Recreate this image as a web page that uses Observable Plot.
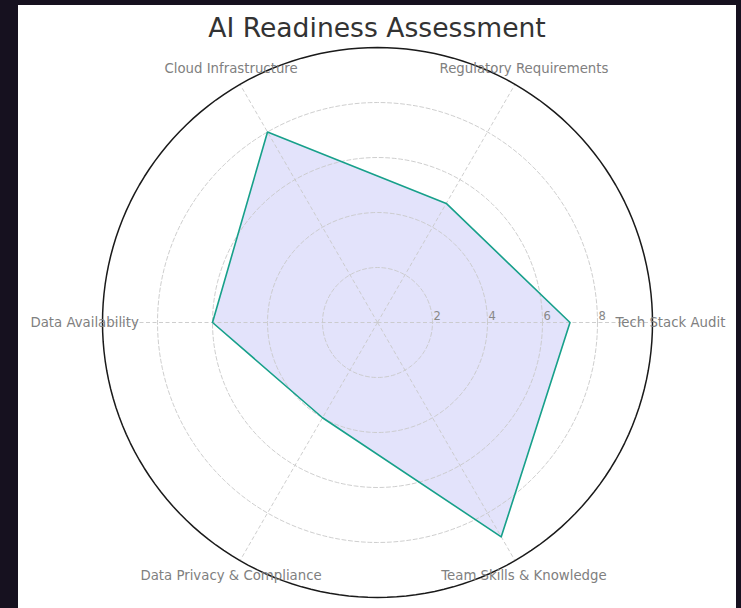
<!DOCTYPE html>
<html>
<head>
<meta charset="utf-8">
<script src="https://cdn.jsdelivr.net/npm/d3@7"></script>
<script src="https://cdn.jsdelivr.net/npm/@observablehq/plot@0.6"></script>
<style>
  html, body { margin: 0; padding: 0; background: #16111f; width: 741px; height: 608px; overflow: hidden; }
  #wrap { position: absolute; left: 18px; top: 5px; width: 718px; height: 603px; background: #fff; }
  #title { position: absolute; left: 0; top: 10px; width: 718px; text-align: center; font-family: "DejaVu Sans", sans-serif; font-size: 26.6px; line-height: 26px; color: #333; }
  #chart { position: absolute; left: 0; top: 0; }
</style>
</head>
<body>
<div id="wrap"><div id="chart"></div><div id="title">AI Readiness Assessment</div></div>
<script>
const categories = ["Tech Stack Audit", "Regulatory Requirements", "Cloud Infrastructure", "Data Availability", "Data Privacy & Compliance", "Team Skills & Knowledge"];
const scores = [7, 5, 8, 6, 4, 9];
const ringTicks = [2, 4, 6, 8];
const rMax = 10;

const W = 718, H = 603, cx = 359, cy = 317, pxPerUnit = 27.5;
const n = categories.length;
const ang = i => (i * 2 * Math.PI) / n;

const polar = (r, a) => ({ x: r * Math.cos(a), y: r * Math.sin(a) });
const circle = r => d3.range(0, 361, 2).map(deg => ({ ...polar(r, deg * Math.PI / 180), r }));

const rings = ringTicks.flatMap(r => circle(r));
const outer = circle(rMax);
const spokes = categories.map((c, i) => ({ ...polar(rMax, ang(i)), c }));
const poly = scores.map((v, i) => ({ ...polar(v, ang(i)), c: categories[i], v }));
poly.push(poly[0]);
const labels = categories.map((c, i) => ({ ...polar(rMax * 1.065, ang(i)), c }));
const tickLabels = ringTicks.map(r => ({ x: r, y: 0, t: String(r) }));

const chart = Plot.plot({
  width: W, height: H, margin: 0,
  x: { domain: [-cx / pxPerUnit, (W - cx) / pxPerUnit], axis: null },
  y: { domain: [-(H - cy) / pxPerUnit, cy / pxPerUnit], axis: null },
  style: { background: "white", fontFamily: "DejaVu Sans, sans-serif" },
  marks: [
    Plot.line(poly, { x: "x", y: "y", fill: "#e3e3fb", stroke: "none" }),
    Plot.line(rings, { x: "x", y: "y", z: "r", stroke: "#c8c8c8", strokeWidth: 0.9, strokeDasharray: "4,2.5" }),
    Plot.link(spokes, { x1: 0, y1: 0, x2: "x", y2: "y", stroke: "#c8c8c8", strokeWidth: 0.9, strokeDasharray: "4,2.5" }),
    Plot.line(poly, { x: "x", y: "y", stroke: "#17a08a", strokeWidth: 1.6 }),
    Plot.line(outer, { x: "x", y: "y", stroke: "#1a1a1a", strokeWidth: 1.5 }),
    Plot.text(tickLabels, { x: "x", y: "y", text: "t", textAnchor: "start", dx: 1, dy: -6, fill: "#888", fontSize: 11.5 }),
    Plot.text(labels, { x: "x", y: "y", text: "c", textAnchor: "middle", lineAnchor: "middle", fill: "#808080", fontSize: 13.3 })
  ]
});
document.getElementById("chart").appendChild(chart);
</script>
</body>
</html>
